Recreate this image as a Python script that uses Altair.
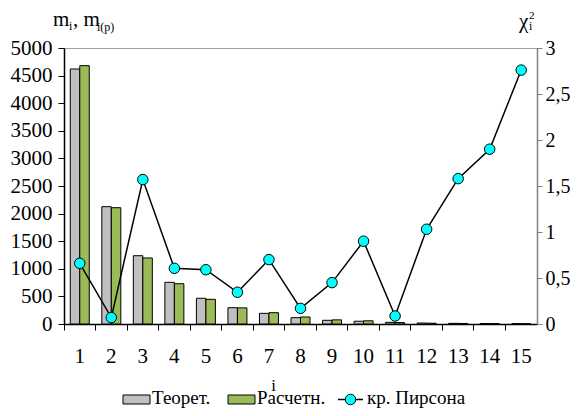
import altair as alt
import pandas as pd

categories = list(range(1, 16))
theor = [4620, 2125, 1237, 755, 466, 295, 193, 115, 67, 50, 30, 18, 12, 9, 7]
calc = [4680, 2107, 1196, 730, 447, 292, 205, 127, 75, 58, 26, 14, 10, 7, 5]
chi2 = [0.66, 0.07, 1.57, 0.605, 0.59, 0.345, 0.70, 0.17, 0.45, 0.90, 0.087, 1.03, 1.58, 1.90, 2.76]
series_names = ["Теорет.", "Расчетн.", "кр. Пирсона"]
bar_colors = ["#C0C0C0", "#9BBB59"]

FONT = "Liberation Serif"

bars_df = pd.DataFrame(
    [{"i": c, "series": series_names[0], "m": v} for c, v in zip(categories, theor)]
    + [{"i": c, "series": series_names[1], "m": v} for c, v in zip(categories, calc)]
)
chi_df = pd.DataFrame({"i": categories, "chi": chi2})

x_enc = alt.X(
    "i:O",
    scale=alt.Scale(paddingInner=0, paddingOuter=0),
    axis=alt.Axis(
        title="i", titleX=209, titleY=66, titleAlign="center", titleBaseline="alphabetic",
        titleFont=FONT, titleFontSize=17, titleFontWeight="normal", titleColor="black",
        labelAngle=0, labelFont=FONT, labelFontSize=21, labelColor="black", labelPadding=15,
        bandPosition=0, tickSize=6, tickColor="black", tickWidth=1,
        domainColor="black", domainWidth=1.5,
    ),
)

bars = alt.Chart(bars_df).mark_bar(stroke="black", strokeWidth=1).encode(
    x=x_enc,
    xOffset=alt.XOffset("series:N", scale=alt.Scale(domain=series_names[:2], paddingInner=0, paddingOuter=0.66)),
    y=alt.Y(
        "m:Q",
        scale=alt.Scale(domain=[0, 5000], nice=False),
        axis=alt.Axis(
            title=None, values=list(range(0, 5001, 500)), format="d", grid=False,
            labelFont=FONT, labelFontSize=21, labelColor="black", labelPadding=6,
            tickSize=6, tickColor="black", domainColor="black", domainWidth=1.5,
        ),
    ),
    fill=alt.Fill("series:N", scale=alt.Scale(domain=series_names[:2], range=bar_colors), legend=None),
)

line = alt.Chart(chi_df).mark_line(
    color="black", strokeWidth=1.5,
    point=alt.OverlayMarkDef(filled=True, fill="#00FFFF", stroke="black", strokeWidth=1, size=110, opacity=1),
).encode(
    x=alt.X("i:O"),
    y=alt.Y(
        "chi:Q",
        scale=alt.Scale(domain=[0, 3], nice=False),
        axis=alt.Axis(
            title=None, orient="right", values=[0, 0.5, 1, 1.5, 2, 2.5, 3], grid=False,
            labelExpr="replace(format(datum.value, '~g'), '.', ',')",
            labelFont=FONT, labelFontSize=20, labelColor="black", labelPadding=3,
            tickSize=5, tickColor="#808080", domainColor="#808080", domainWidth=1.5,
        ),
    ),
)

# axis titles with sub/superscripts
def txt(s, x, y, size, align="left"):
    return alt.Chart(pd.DataFrame({"t": [s]})).mark_text(
        font=FONT, fontSize=size, align=align, baseline="alphabetic", color="black"
    ).encode(text="t:N", x=alt.value(x), y=alt.value(y))

titles = [
    txt("m", -11, -22, 21),
    txt("i", 5, -18, 12),
    txt(", m", 9, -22, 21),
    txt("i(p)", 33, -17, 12),
    txt("χ", 455, -20, 21),
    txt("2", 465, -29, 11),
    txt("i", 465, -18, 12),
]

# legend
LEG_Y = 356
leg_rects = alt.Chart(pd.DataFrame({"s": series_names[:2], "x0": [59, 164], "x1": [86, 191]})).mark_rect(
    stroke="black", strokeWidth=1
).encode(
    x=alt.X("x0:Q", scale=None), x2="x1:Q", y=alt.value(LEG_Y - 9), y2=alt.value(LEG_Y),
    fill=alt.Fill("s:N", scale=alt.Scale(domain=series_names[:2], range=bar_colors), legend=None),
)
leg_text = alt.Chart(pd.DataFrame({"s": series_names, "x": [88, 193, 303]})).mark_text(
    font=FONT, fontSize=19, align="left", baseline="alphabetic", color="black"
).encode(x=alt.X("x:Q", scale=None), y=alt.value(LEG_Y), text="s:N")
leg_line = alt.Chart(pd.DataFrame({"a": [1]})).mark_rule(color="black", strokeWidth=1.5).encode(
    x=alt.value(274), x2=alt.value(299), y=alt.value(LEG_Y - 4.5)
)
leg_pt = alt.Chart(pd.DataFrame({"a": [1]})).mark_point(
    filled=True, fill="#00FFFF", stroke="black", strokeWidth=1, size=110, opacity=1
).encode(x=alt.value(286.5), y=alt.value(LEG_Y - 4.5))

chart = alt.layer(bars, line, *titles, leg_rects, leg_line, leg_pt, leg_text).resolve_scale(
    y="independent", fill="independent"
).properties(
    width=473, height=276,
    autosize=alt.AutoSizeParams(type="none"),
    padding={"left": 56, "top": 40, "right": 34, "bottom": 84},
).configure_view(stroke="#a0a0a0", strokeWidth=1)

chart.save("out.html", embed_options={"renderer": "svg", "actions": False})
